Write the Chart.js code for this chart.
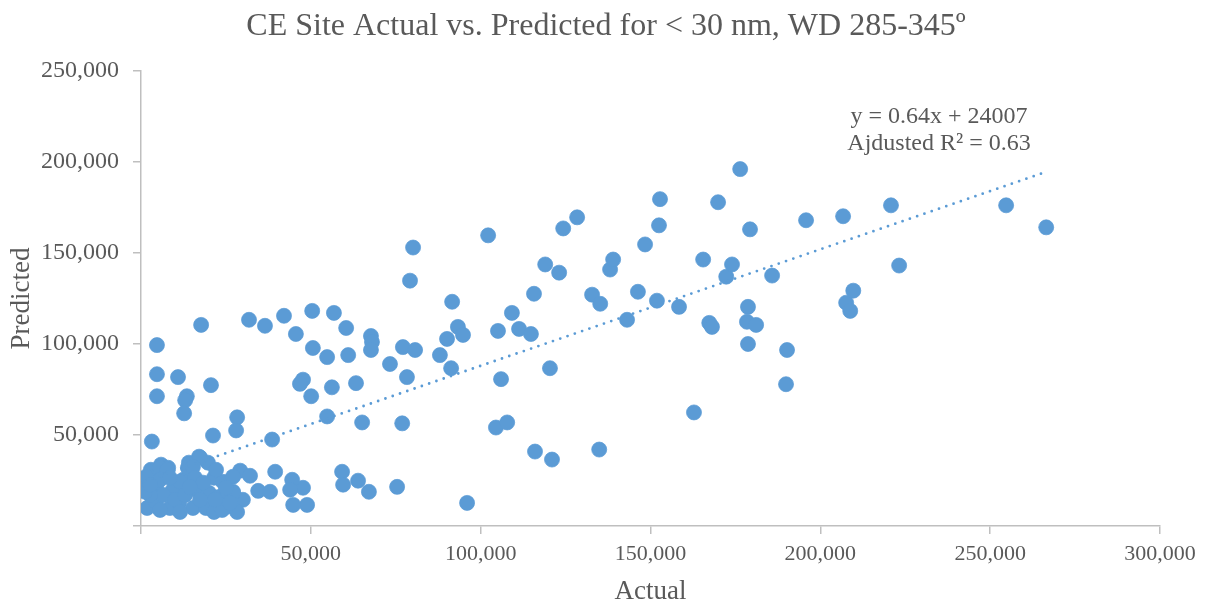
<!DOCTYPE html>
<html>
<head>
<meta charset="utf-8">
<title>CE Site Actual vs. Predicted</title>
<script src="https://cdn.jsdelivr.net/npm/chart.js@4.4.1/dist/chart.umd.min.js"></script>
<style>
  html, body { margin: 0; padding: 0; background: #ffffff; }
  #wrap { width: 1206px; height: 605px; }
</style>
</head>
<body>
<div id="wrap"><canvas id="scatterChart" width="1206" height="605"></canvas></div>
<script>
// Observed concentrations (Actual) and model output (Predicted), one entry per sample
const actual = [
    4700, 4700, 4700, 3200, 10900, 13500, 13000, 12700, 17700, 20600,
    21200, 28300, 28000, 31800, 36500, 42100, 45600, 50600, 50400, 54800,
    38600, 47700, 46800, 50100, 56200, 63300, 54800, 65100, 56800, 60400,
    67700, 68000, 67700, 61000, 73300, 77100, 80700, 78300, 88000, 90100,
    91600, 93300, 94800, 91300, 76900, 79200, 80100, 102200, 105100, 109200,
    111300, 114800, 106000, 104500, 107800, 115700, 120400, 119000, 123100, 124300,
    128400, 116000, 121000, 134900, 132800, 135200, 138100, 139000, 143100, 146300,
    148400, 151900, 152500, 152800, 158400, 162800, 165500, 167300, 168100, 169900,
    172300, 174000, 176400, 179300, 178700, 178400, 181100, 178700, 185800, 190200,
    189900, 195800, 206700, 220800, 207600, 208800, 209700, 223200, 254700, 266500,
    59200, 59500, 63900, 67100, 75400, 96000, 47700, 48900, 44800, 44500,
    43900, 39500, 29200, 32100, 34500, 38000, 27100, 30000, 28300, 2900,
    5900, 8000, 1800, 1800, 4400, 8500, 11200, 15300, 14100, 17100,
    19700, 21500, 24100, 19100, 21500, 25000, 27100, 27100, 12400, 9400,
    4400, 16200, 20000, 23000, 1500, 13800, 11500, 5600, 7700, 17400,
    15300, 23900, 6500, 2700, 10000, 13000, 17400, 21800, 26200, 5600,
    8500, 15900, 18300, 25000, 1200, 14400, 5600, 11500, 2700, 22100
];
const predicted = [
    99400, 83400, 71300, 46400, 81800, 71300, 69100, 61900, 110500, 77400,
    49700, 59700, 52500, 113300, 110000, 115500, 105500, 97800, 118200, 92800,
    47500, 80400, 78100, 71300, 76200, 78500, 60200, 56900, 117100, 108800,
    104400, 101100, 96700, 93900, 89000, 98300, 96700, 81800, 93900, 102800,
    123200, 109400, 105000, 86700, 56400, 134800, 153000, 159700, 107200, 117100,
    108300, 105500, 80700, 54100, 56900, 127600, 86700, 143700, 139200, 163500,
    169600, 40900, 36500, 42000, 127100, 122100, 140900, 146400, 113300, 128700,
    154700, 123800, 165200, 179600, 120400, 62400, 146400, 111600, 109400, 177900,
    137000, 143700, 196100, 163000, 120400, 112200, 110500, 100000, 137600, 96700,
    77900, 168000, 170200, 176200, 122700, 118200, 129300, 143100, 176200, 164100,
    29800, 22700, 24900, 18800, 21500, 12700, 21000, 11600, 11600, 25400,
    19900, 29800, 30400, 27600, 19300, 18800, 18800, 14400, 7700, 30900,
    33700, 32000, 21500, 9900, 13300, 9900, 12700, 9900, 34800, 38100,
    34800, 26500, 24300, 9900, 7700, 10500, 18200, 27100, 25400, 19900,
    21500, 19900, 18200, 16000, 27100, 32000, 24300, 32000, 30900, 37600,
    32600, 8800, 17100, 17100, 14400, 17100, 14400, 14400, 12700, 25400,
    26500, 26500, 23800, 21000, 18800, 21500, 8800, 7700, 22700, 30900
];

// Linear trendline fitted in the workbook
const trendSlope = 0.64;
const trendIntercept = 24007;
const trendLabel = "y = 0.64x + 24007";
const r2Label = "Ajdusted R\u00B2 = 0.63";

const xTicks = [0, 50000, 100000, 150000, 200000, 250000, 300000];
const yTicks = [0, 50000, 100000, 150000, 200000, 250000];

const chartTitle = "CE Site Actual vs. Predicted for < 30 nm, WD 285-345\u00BA";
const serif = "'Liberation Serif', 'Times New Roman', serif";
const textGrey = "#595959";
const axisGrey = "#bfbfbf";
const pointBlue = "#5b9bd5";

const points = actual.map((a, i) => ({ x: a, y: predicted[i] }));
const xMin = Math.min(...actual);
const xMax = Math.max(...actual);
const trendPoints = [
    { x: xMin, y: trendSlope * xMin + trendIntercept },
    { x: xMax, y: trendSlope * xMax + trendIntercept }
];

const fmt = v => v === 0 ? "" : v.toLocaleString("en-US");

// Title and trendline equation text
const textPlugin = {
    id: "chartText",
    afterDraw(chart) {
        const ctx = chart.ctx;
        ctx.save();
        ctx.fillStyle = textGrey;
        ctx.textAlign = "center";
        ctx.textBaseline = "middle";
        ctx.font = "32px " + serif;
        ctx.fillText(chartTitle, 606, 27);
        ctx.font = "24px " + serif;
        ctx.fillText(trendLabel, 939, 117);
        ctx.fillText(r2Label, 939, 144);
        ctx.restore();
    }
};

const scatterChart = new Chart(document.getElementById("scatterChart"), {
    type: "scatter",
    data: {
        datasets: [
            {
                label: "Trend",
                data: trendPoints,
                showLine: true,
                borderColor: pointBlue,
                borderWidth: 2.8,
                borderDash: [0, 7.7],
                borderCapStyle: "round",
                pointRadius: 0,
                order: 0
            },
            {
                label: "Predicted",
                data: points,
                backgroundColor: pointBlue,
                borderColor: pointBlue,
                borderWidth: 0.75,
                pointRadius: 7.5,
                order: 1
            }
        ]
    },
    options: {
        responsive: false,
        animation: false,
        devicePixelRatio: 1,
        layout: { padding: { top: 71, right: 46, left: 0, bottom: 0 } },
        plugins: {
            legend: { display: false },
            tooltip: { enabled: false }
        },
        scales: {
            x: {
                type: "linear",
                min: 0,
                max: 300000,
                afterBuildTicks: scale => { scale.ticks = xTicks.map(v => ({ value: v })); },
                afterFit: scale => { scale.height = 79; },
                ticks: {
                    callback: fmt,
                    color: textGrey,
                    font: { family: serif, size: 22 },
                    padding: 7,
                    maxRotation: 0
                },
                grid: { drawOnChartArea: false, drawTicks: true, tickLength: 8, color: axisGrey, lineWidth: 1.5 },
                border: { color: axisGrey, width: 1.5 },
                title: {
                    display: true,
                    text: "Actual",
                    color: textGrey,
                    font: { family: serif, size: 27, lineHeight: 1 },
                    padding: { top: 0, bottom: 0 }
                }
            },
            y: {
                type: "linear",
                min: 0,
                max: 250000,
                afterBuildTicks: scale => { scale.ticks = yTicks.map(v => ({ value: v })); },
                afterFit: scale => { scale.width = 141; },
                ticks: {
                    callback: fmt,
                    color: textGrey,
                    font: { family: serif, size: 24 },
                    padding: 14
                },
                grid: { drawOnChartArea: false, drawTicks: true, tickLength: 8, color: axisGrey, lineWidth: 1.5 },
                border: { color: axisGrey, width: 1.5 },
                title: {
                    display: true,
                    text: "Predicted",
                    color: textGrey,
                    font: { family: serif, size: 27, lineHeight: 1 },
                    padding: { top: 8, bottom: 0 }
                }
            }
        }
    },
    plugins: [textPlugin]
});
</script>
</body>
</html>
